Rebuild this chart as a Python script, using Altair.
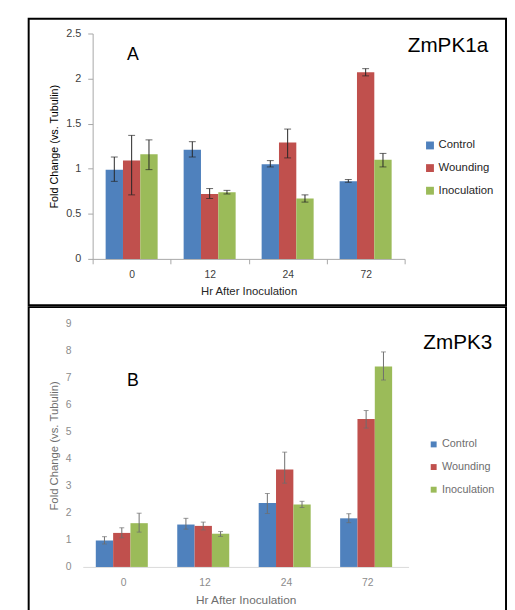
import altair as alt
import pandas as pd

hours = ["0", "12", "24", "72"]
treatments = ["Control", "Wounding", "Inoculation"]
colors = ["#4F81BD", "#C0504D", "#9BBB59"]

# Panel A (ZmPK1a)
a_control = [0.99, 1.21, 1.05, 0.86]
a_control_lo = [0.86, 1.13, 1.02, 0.85]
a_control_hi = [1.13, 1.30, 1.09, 0.88]
a_wounding = [1.09, 0.72, 1.29, 2.07]
a_wounding_lo = [0.71, 0.67, 1.12, 2.03]
a_wounding_hi = [1.37, 0.78, 1.44, 2.11]
a_inoculation = [1.16, 0.74, 0.67, 1.10]
a_inoculation_lo = [0.99, 0.72, 0.63, 1.02]
a_inoculation_hi = [1.32, 0.76, 0.71, 1.17]

# Panel B (ZmPK3)
b_control = [0.98, 1.57, 2.37, 1.80]
b_control_lo = [0.85, 1.40, 1.98, 1.64]
b_control_hi = [1.12, 1.80, 2.72, 1.97]
b_wounding = [1.26, 1.52, 3.61, 5.48]
b_wounding_lo = [1.08, 1.37, 3.10, 5.14]
b_wounding_hi = [1.45, 1.66, 4.25, 5.79]
b_inoculation = [1.62, 1.23, 2.31, 7.42]
b_inoculation_lo = [1.29, 1.13, 2.20, 6.92]
b_inoculation_hi = [1.99, 1.31, 2.43, 7.96]

y_ticks_a = [0, 0.5, 1, 1.5, 2, 2.5]
y_ticks_b = [0, 1, 2, 3, 4, 5, 6, 7, 8, 9]

FONT = "Liberation Sans"


def long_table(means, los, his):
    rows = []
    for t, m, lo, hi in zip(treatments, means, los, his):
        for h, mv, lv, hv in zip(hours, m, lo, hi):
            rows.append({"hour": h, "treatment": t, "mean": mv, "lo": lv, "hi": hv})
    return pd.DataFrame(rows)


df_a = long_table(
    [a_control, a_wounding, a_inoculation],
    [a_control_lo, a_wounding_lo, a_inoculation_lo],
    [a_control_hi, a_wounding_hi, a_inoculation_hi],
)
df_b = long_table(
    [b_control, b_wounding, b_inoculation],
    [b_control_lo, b_wounding_lo, b_inoculation_lo],
    [b_control_hi, b_wounding_hi, b_inoculation_hi],
)

YTITLE = "Fold Change (vs. Tubulin)"
XTITLE = "Hr After Inoculation"


def panel(df, width, height, xrange, yrange, ydomain, yvalues, xaxis, yaxis,
          legend, err_color, cap, letter, letter_pos, gene, gene_pos):
    x = alt.X("hour:N", sort=hours, title=XTITLE,
              scale=alt.Scale(range=xrange, paddingInner=0, paddingOuter=0),
              axis=xaxis)
    xo = alt.XOffset("treatment:N", sort=treatments,
                     scale=alt.Scale(paddingInner=0, paddingOuter=0.75))
    yscale = alt.Scale(domain=ydomain, range=yrange)
    base = alt.Chart(df)
    bars = base.mark_bar().encode(
        x=x, xOffset=xo,
        y=alt.Y("mean:Q", scale=yscale, axis=yaxis, title=YTITLE),
        color=alt.Color("treatment:N", sort=treatments,
                        scale=alt.Scale(domain=treatments, range=colors),
                        legend=legend),
    )
    err = base.mark_rule(color=err_color, strokeWidth=1).encode(
        x=x, xOffset=xo,
        y=alt.Y("lo:Q", scale=yscale, axis=yaxis, title=YTITLE),
        y2="hi:Q",
    )
    cap_lo = base.mark_tick(color=err_color, size=cap, thickness=1,
                            orient="horizontal").encode(
        x=x, xOffset=xo,
        y=alt.Y("lo:Q", scale=yscale, axis=yaxis, title=YTITLE),
    )
    cap_hi = base.mark_tick(color=err_color, size=cap, thickness=1,
                            orient="horizontal").encode(
        x=x, xOffset=xo,
        y=alt.Y("hi:Q", scale=yscale, axis=yaxis, title=YTITLE),
    )
    letter_t = alt.Chart(pd.DataFrame({"label": [letter]})).mark_text(
        font=FONT, fontSize=18, color="black", align="center", baseline="middle"
    ).encode(text="label:N", x=alt.value(letter_pos[0]), y=alt.value(letter_pos[1]))
    gene_t = alt.Chart(pd.DataFrame({"label": [gene]})).mark_text(
        font=FONT, fontSize=21, color="black", align="center", baseline="middle"
    ).encode(text="label:N", x=alt.value(gene_pos[0]), y=alt.value(gene_pos[1]))
    return alt.layer(bars, err, cap_lo, cap_hi, letter_t, gene_t).properties(
        width=width, height=height
    )


W = 485
HA = 291
HB = 312

axis_x_a = alt.Axis(offset=-(HA - 244), tickBand="extent", tickSize=5,
                    domainColor="#a6a6a6", tickColor="#a6a6a6", labelAngle=0,
                    labelColor="#404040", labelFontSize=10.5, labelPadding=6,
                    titleFontSize=11.5, titleFontWeight="normal", titleColor="#262626",
                    titlePadding=6, labelFont=FONT, titleFont=FONT)
axis_y_a = alt.Axis(offset=-65, values=y_ticks_a, format="~g", grid=False,
                    domainColor="#a6a6a6", tickColor="#a6a6a6", tickSize=5,
                    labelColor="#404040", labelFontSize=11, labelPadding=7,
                    titleFontSize=11, titleFontWeight="normal", titleColor="black",
                    titlePadding=6, labelFont=FONT, titleFont=FONT)
legend_a = alt.Legend(orient="none", legendX=402, legendY=123, title=None,
                      symbolType="square", symbolSize=64, symbolStrokeWidth=0,
                      labelFontSize=11.5, labelColor="#262626", labelFont=FONT,
                      rowPadding=10, labelOffset=3, padding=0)

axis_x_b = alt.Axis(offset=-(HB - 264), ticks=False, tickSize=0,
                    domainColor="#d9d9d9", labelAngle=0,
                    labelColor="#8c8c8c", labelFontSize=10.5, labelPadding=11,
                    titleFontSize=12, titleFontWeight="normal", titleColor="#6e6e6e",
                    titlePadding=7, labelFont=FONT, titleFont=FONT)
axis_y_b = alt.Axis(offset=-55, values=y_ticks_b, format="~g", grid=False,
                    domain=False, ticks=False, tickSize=0,
                    labelColor="#8c8c8c", labelFontSize=10.5, labelPadding=12,
                    titleFontSize=11.5, titleFontWeight="normal", titleColor="#6e6e6e",
                    titlePadding=6, labelFont=FONT, titleFont=FONT)
legend_b = alt.Legend(orient="none", legendX=406, legendY=134, title=None,
                      symbolType="square", symbolSize=36, symbolStrokeWidth=0,
                      labelFontSize=11, labelColor="#6e6e6e", labelFont=FONT,
                      rowPadding=11, labelOffset=3, padding=0)

panel_a = panel(df_a, W, HA, [65, 382], [244, 15], [0, 2.5], y_ticks_a,
                axis_x_a, axis_y_a, legend_a, "#262626", 7,
                "A", (106, 37), "ZmPK1a", (426, 28))
panel_b = panel(df_b, W, HB, [55, 386], [264, 17], [0, 9], y_ticks_b,
                axis_x_b, axis_y_b, legend_b, "#6e6e6e", 5,
                "B", (106, 75), "ZmPK3", (436, 37))

chart = alt.vconcat(panel_a, panel_b, spacing=0).resolve_scale(
    color="independent"
).resolve_legend(color="independent").properties(
    padding={"left": 20, "top": 5, "right": 0, "bottom": 0},
    background="white",
).configure_view(
    stroke="black", strokeWidth=2
)

chart.save("out.html", embed_options={"renderer": "svg", "actions": False})
